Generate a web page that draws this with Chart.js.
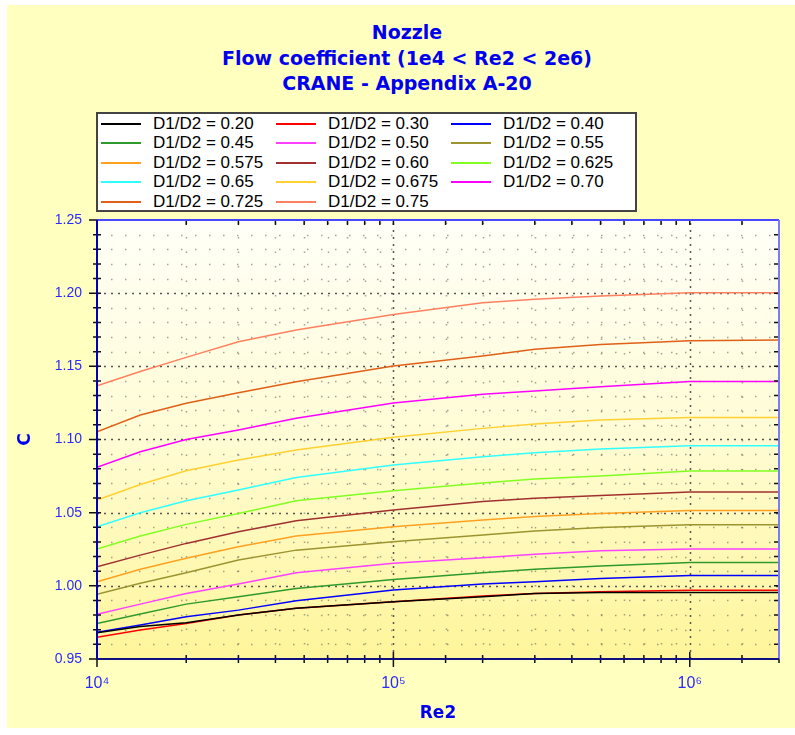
<!DOCTYPE html>
<html>
<head>
<meta charset="utf-8">
<title>Nozzle flow coefficient</title>
<script src="https://cdn.jsdelivr.net/npm/chart.js@4.4.0/dist/chart.umd.min.js"></script>
<style>
    body { margin: 0; background: #ffffff; }
    #panel { position: absolute; left: 7px; top: 5px; width: 788px; height: 723px; background: #ffffc0; }
    #chart { position: absolute; left: 0; top: 0; }
    #title {
        position: absolute; left: 157px; top: 20px; width: 500px;
        text-align: center; color: #0000ee;
        font: bold 19px "DejaVu Sans", sans-serif; line-height: 25.5px;
    }
    #legend {
        position: absolute; left: 96px; top: 112px; width: 534px; height: 96px;
        background: #ffffff; border: 2px solid #444444;
        display: grid; grid-template-columns: repeat(3, 175px); grid-auto-rows: 19.5px;
        padding-left: 3px;
        font: 17px "Liberation Sans", Arial, sans-serif; color: #000000;
    }
    #legend div { display: flex; align-items: center; white-space: nowrap; }
    #legend span.swatch { display: inline-block; width: 40px; height: 0; border-top: 2px solid; margin-right: 12px; }
</style>
</head>
<body>
<div id="panel"></div>
<div id="title">Nozzle<br>Flow coefficient (1e4 &lt; Re2 &lt; 2e6)<br>CRANE - Appendix A-20</div>
<div id="legend"></div>
<canvas id="chart" width="795" height="735"></canvas>
<script>
document.addEventListener("DOMContentLoaded", function () {

    // Re2 values where the curves were read
    const re2 = [1e4, 1.4e4, 2e4, 3e4, 4.7e4, 1e5, 2e5, 3e5, 5e5, 1e6, 2e6];

    const ratios = ["0.20", "0.30", "0.40", "0.45", "0.50", "0.55", "0.575",
                    "0.60", "0.625", "0.65", "0.675", "0.70", "0.725", "0.75"];

    const c020 = [0.968, 0.9722, 0.9748, 0.980, 0.9846, 0.9891, 0.9925, 0.9948, 0.9955, 0.9955, 0.9955];
    const c030 = [0.9649, 0.9698, 0.9743, 0.980, 0.9846, 0.9891, 0.993, 0.9948, 0.996, 0.997, 0.997];
    const c040 = [0.9682, 0.9732, 0.9789, 0.9834, 0.9898, 0.9971, 1.0012, 1.0028, 1.005, 1.0071, 1.0071];
    const c045 = [0.9743, 0.9807, 0.9875, 0.9925, 0.9982, 1.0044, 1.009, 1.0113, 1.0135, 1.016, 1.016];
    const c050 = [0.9805, 0.9875, 0.9948, 1.0012, 1.009, 1.0154, 1.0192, 1.0215, 1.024, 1.0251, 1.0251];
    const c055 = [0.9942, 1.0017, 1.009, 1.0176, 1.0244, 1.0301, 1.0347, 1.0374, 1.0399, 1.0417, 1.0417];
    const c0575 = [1.0028, 1.0113, 1.0188, 1.0267, 1.034, 1.0404, 1.045, 1.0473, 1.0495, 1.0514, 1.0514];
    const c060 = [1.013, 1.021, 1.029, 1.037, 1.0445, 1.0518, 1.0576, 1.0598, 1.0618, 1.0641, 1.0641];
    const c0625 = [1.0251, 1.034, 1.042, 1.0495, 1.0582, 1.065, 1.0702, 1.073, 1.075, 1.0784, 1.0784];
    const c065 = [1.0404, 1.05, 1.0582, 1.0655, 1.0741, 1.0825, 1.0882, 1.091, 1.0935, 1.0957, 1.0957];
    const c0675 = [1.0586, 1.0693, 1.0787, 1.086, 1.0928, 1.1015, 1.1076, 1.1106, 1.1133, 1.115, 1.115];
    const c070 = [1.081, 1.0916, 1.100, 1.1065, 1.1145, 1.125, 1.1309, 1.1331, 1.136, 1.1397, 1.1397];
    const c0725 = [1.1053, 1.1167, 1.1247, 1.132, 1.1395, 1.1502, 1.157, 1.1616, 1.165, 1.1675, 1.168];
    const c075 = [1.1367, 1.1465, 1.1561, 1.1668, 1.1748, 1.1855, 1.1935, 1.1958, 1.198, 1.2003, 1.2003];

    const curves = [c020, c030, c040, c045, c050, c055, c0575, c060, c0625, c065, c0675, c070, c0725, c075];

    const colors = ["#000000", "#ff0000", "#0000ff", "#2e9a2e", "#ff40ff", "#9c9430", "#ffa020",
                    "#a03030", "#80ff20", "#30ffff", "#ffd030", "#ff00ff", "#e06018", "#ff8060"];

    const yMajor = v => Math.round(v * 100) % 5 === 0;
    const xMajor = v => Math.abs(Math.log10(v) - Math.round(Math.log10(v))) < 1e-9;
    const sup = { 4: "\u2074", 5: "\u2075", 6: "\u2076" };

    // plot background, dotted grid, axis frame with tick marks
    const plotDecor = {
        id: "plotDecor",
        beforeDatasetsDraw(chart) {
            const { ctx, chartArea: a, scales: { x, y } } = chart;
            ctx.save();
            const g = ctx.createLinearGradient(0, a.top, 0, a.bottom);
            g.addColorStop(0, "#fffff8");
            g.addColorStop(0.5, "#fffcd4");
            g.addColorStop(1, "#fff59a");
            ctx.fillStyle = g;
            ctx.fillRect(a.left, a.top, a.width, a.height);

            ctx.lineWidth = 1.5;
            y.ticks.forEach(t => {
                if (t.value <= y.min + 1e-9 || t.value >= y.max - 1e-9) return;
                const py = Math.round(y.getPixelForValue(t.value)) + 0.5;
                if (yMajor(t.value)) {
                    ctx.setLineDash([2, 5]);
                    ctx.strokeStyle = "#555555";
                } else {
                    ctx.setLineDash([1.5, 12.5]);
                    ctx.strokeStyle = "rgba(90,90,90,0.55)";
                }
                ctx.beginPath();
                ctx.moveTo(a.left, py);
                ctx.lineTo(a.right, py);
                ctx.stroke();
            });
            x.ticks.forEach(t => {
                if (t.value <= x.min * 1.0001 || t.value >= x.max * 0.9999) return;
                const px = Math.round(x.getPixelForValue(t.value)) + 0.5;
                if (xMajor(t.value)) {
                    ctx.setLineDash([2, 5]);
                    ctx.strokeStyle = "#555555";
                } else {
                    ctx.setLineDash([1.5, 13]);
                    ctx.strokeStyle = "rgba(90,90,90,0.55)";
                }
                ctx.beginPath();
                ctx.moveTo(px, a.bottom);
                ctx.lineTo(px, a.top);
                ctx.stroke();
            });
            ctx.restore();
        },
        afterDraw(chart) {
            const { ctx, chartArea: a, scales: { x, y } } = chart;
            ctx.save();
            ctx.setLineDash([]);

            // tick marks
            ctx.strokeStyle = "#111111";
            ctx.lineWidth = 1.5;
            y.ticks.forEach(t => {
                const py = y.getPixelForValue(t.value);
                ctx.beginPath();
                ctx.moveTo(a.left - (yMajor(t.value) ? 8 : 4), py);
                ctx.lineTo(a.left + 4, py);
                ctx.moveTo(a.right - 5, py);
                ctx.lineTo(a.right, py);
                ctx.stroke();
            });
            x.ticks.forEach(t => {
                const px = x.getPixelForValue(t.value);
                const big = xMajor(t.value);
                ctx.beginPath();
                ctx.moveTo(px, a.bottom - (big ? 7 : 4));
                ctx.lineTo(px, a.bottom + (big ? 8 : 4));
                ctx.moveTo(px, a.top);
                ctx.lineTo(px, a.top + 5);
                ctx.stroke();
            });

            // frame
            ctx.lineWidth = 2;
            ctx.strokeStyle = "#4848ff";
            ctx.beginPath();
            ctx.moveTo(a.left, a.top);
            ctx.lineTo(a.right, a.top);
            ctx.stroke();
            ctx.strokeStyle = "#7a7aff";
            ctx.beginPath();
            ctx.moveTo(a.right, a.top);
            ctx.lineTo(a.right, a.bottom);
            ctx.stroke();
            ctx.strokeStyle = "#0000b8";
            ctx.beginPath();
            ctx.moveTo(a.left, a.top);
            ctx.lineTo(a.left, a.bottom);
            ctx.stroke();
            ctx.strokeStyle = "#101080";
            ctx.beginPath();
            ctx.moveTo(a.left, a.bottom);
            ctx.lineTo(a.right, a.bottom);
            ctx.stroke();
            ctx.restore();
        }
    };

    const datasets = curves.map((vals, i) => ({
        label: "D1/D2 = " + ratios[i],
        data: re2.map((r, j) => ({ x: r, y: vals[j] })),
        borderColor: colors[i],
        borderWidth: 1.5,
        pointRadius: 0,
        tension: 0,
        fill: false
    }));

    Chart.defaults.font.family = "'Liberation Sans', Arial, sans-serif";

    new Chart(document.getElementById("chart").getContext("2d"), {
        type: "line",
        data: { datasets: datasets },
        options: {
            responsive: false,
            devicePixelRatio: 1,
            animation: false,
            layout: { padding: { left: 0, right: 16, top: 220, bottom: 0 } },
            plugins: {
                legend: { display: false },
                title: { display: false },
                tooltip: { enabled: false }
            },
            scales: {
                x: {
                    type: "logarithmic",
                    min: 1e4,
                    max: 2e6,
                    afterFit: s => { s.height = 76; },
                    grid: { display: false, drawTicks: false },
                    border: { display: false },
                    ticks: {
                        autoSkip: false,
                        maxRotation: 0,
                        padding: 15,
                        color: "#2a2aff",
                        font: { size: 16 },
                        callback: v => xMajor(v) ? "10" + sup[Math.round(Math.log10(v))] : ""
                    },
                    title: {
                        display: true,
                        text: "Re2",
                        color: "#0000ee",
                        font: { family: "'DejaVu Sans', sans-serif", size: 17, weight: "bold" },
                        padding: { top: 0, bottom: 11 }
                    }
                },
                y: {
                    min: 0.95,
                    max: 1.25,
                    afterFit: s => { s.width = 97; },
                    grid: { display: false, drawTicks: false },
                    border: { display: false },
                    ticks: {
                        stepSize: 0.01,
                        autoSkip: false,
                        padding: 15,
                        color: "#2a2aff",
                        font: { size: 14 },
                        callback: v => yMajor(v) ? v.toFixed(2) : ""
                    },
                    title: {
                        display: true,
                        text: "C",
                        color: "#0000ee",
                        font: { family: "'DejaVu Sans', sans-serif", size: 17, weight: "bold" },
                        padding: { top: 15, bottom: 0 }
                    }
                }
            }
        },
        plugins: [plotDecor]
    });

    const legend = document.getElementById("legend");
    datasets.forEach(ds => {
        const item = document.createElement("div");
        const swatch = document.createElement("span");
        swatch.className = "swatch";
        swatch.style.borderTopColor = ds.borderColor;
        item.appendChild(swatch);
        item.appendChild(document.createTextNode(ds.label));
        legend.appendChild(item);
    });
});
</script>
</body>
</html>
